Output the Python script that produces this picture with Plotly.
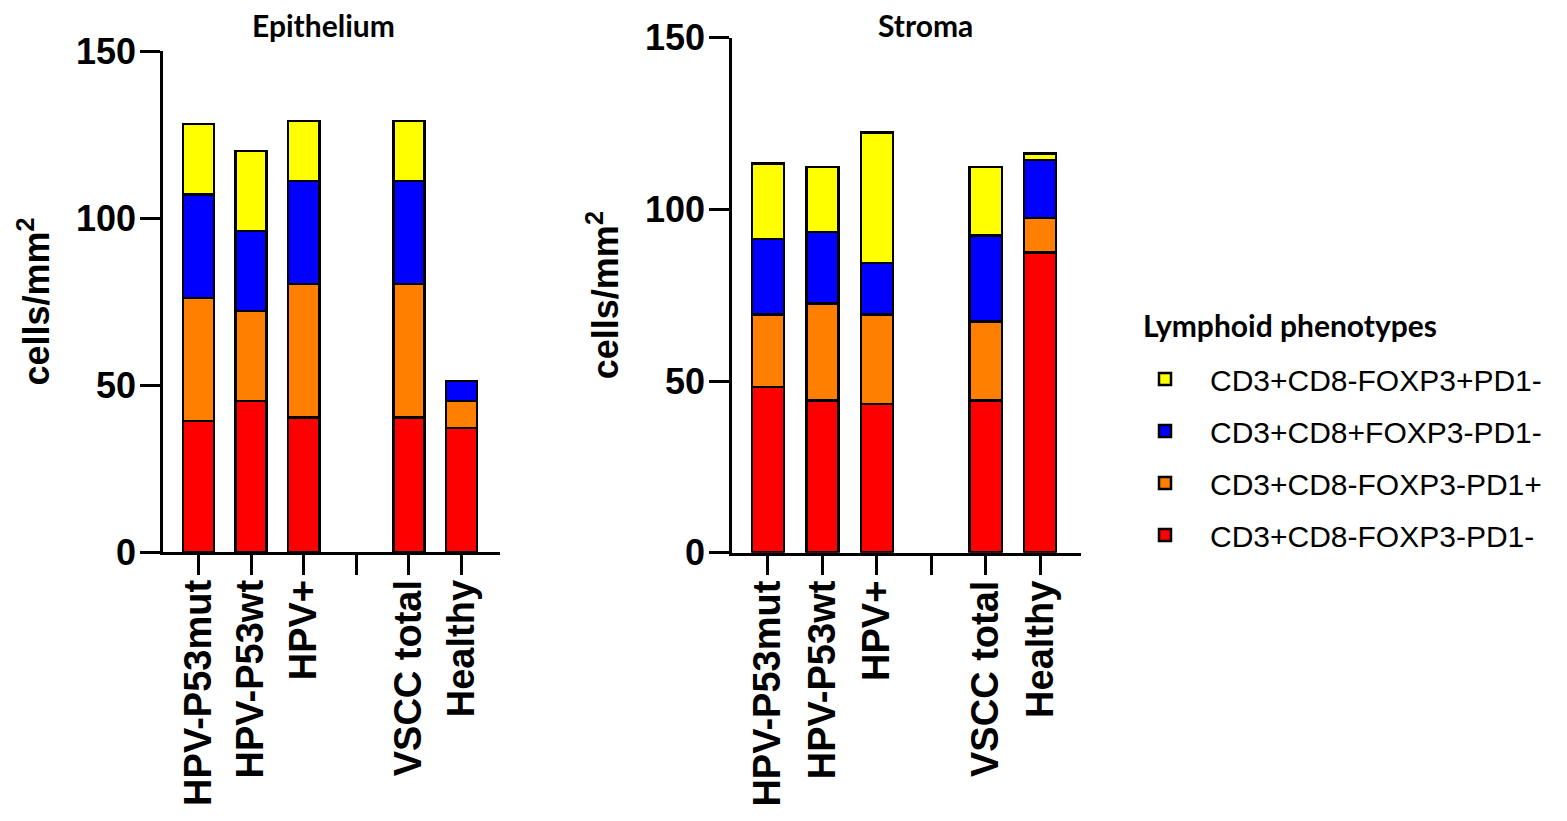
import plotly.graph_objects as go

categories = ["HPV-P53mut", "HPV-P53wt", "HPV+", " ", "VSCC total", "Healthy"]
phenotypes = ["CD3+CD8-FOXP3-PD1-", "CD3+CD8-FOXP3-PD1+", "CD3+CD8+FOXP3-PD1-", "CD3+CD8-FOXP3+PD1-"]
colors = ["#FF0000", "#FF8000", "#0000FF", "#FFFF00"]

# Epithelium (cells/mm2) per phenotype; the " " category is the empty gap
epi_red = [39.2, 45.2, 40.2, None, 40.2, 37.1]
epi_orange = [36.8, 27.0, 40.1, None, 40.1, 8.1]
epi_blue = [31.1, 23.9, 30.8, None, 30.8, 6.0]
epi_yellow = [21.0, 23.9, 17.9, None, 17.9, 0]

# Stroma (cells/mm2)
str_red = [48.3, 44.3, 43.3, None, 44.3, 87.4]
str_orange = [21.1, 28.2, 26.1, None, 23.1, 10.1]
str_blue = [22.0, 20.9, 14.9, None, 25.0, 16.9]
str_yellow = [22.0, 18.9, 38.1, None, 19.9, 1.8]

epi_series = [epi_red, epi_orange, epi_blue, epi_yellow]
str_series = [str_red, str_orange, str_blue, str_yellow]

ARIAL = "Liberation Sans, Arial, sans-serif"
CALIBRI = "Lato, Carlito, Calibri, sans-serif"

fig = go.Figure()
for i, (name, col) in enumerate(zip(phenotypes, colors)):
    fig.add_trace(go.Bar(
        x=categories, y=epi_series[i], name=name, legendgroup=name,
        legendrank=len(phenotypes) - i,
        marker=dict(color=col, line=dict(color="black", width=2.5)),
        width=0.59, xaxis="x", yaxis="y", showlegend=True))
for i, (name, col) in enumerate(zip(phenotypes, colors)):
    fig.add_trace(go.Bar(
        x=categories, y=str_series[i], name=name, legendgroup=name,
        legendrank=len(phenotypes) - i,
        marker=dict(color=col, line=dict(color="black", width=2.5)),
        width=0.59, xaxis="x2", yaxis="y2", showlegend=False))

W, H = 1567, 821

def px_x(v):
    return v / W

def px_y(v):
    return 1 - v / H

BOLD36 = dict(family=ARIAL, size=36, color="black", weight="bold")
BOLD38 = dict(family=ARIAL, size=38, color="black", weight="bold")

xcommon = dict(type="category", categoryorder="array", categoryarray=categories,
               showline=True, linecolor="black", linewidth=2.5,
               ticks="outside", ticklen=20, tickwidth=2.5, tickcolor="black",
               tickangle=-90, tickfont=BOLD38, automargin=False,
               ticklabelstandoff=-10,
               showgrid=False, zeroline=False)
ycommon = dict(range=[0, 150], tickvals=[0, 50, 100, 150],
               showline=True, linecolor="black", linewidth=2.5,
               ticks="outside", ticklen=20, tickwidth=2.5, tickcolor="black",
               tickfont=BOLD36, automargin=False,
               ticklabelstandoff=-3,
               showgrid=False, zeroline=False,
               title=dict(text="cells/mm<sup>2</sup>", font=BOLD36, standoff=16))

fig.update_layout(
    width=W, height=H,
    margin=dict(l=0, r=0, t=0, b=0, pad=0, autoexpand=False),
    plot_bgcolor="white", paper_bgcolor="white",
    barmode="stack", bargap=0.4,
    xaxis=dict(domain=[px_x(163), px_x(500)], range=[-0.675, 5.73], anchor="y", **xcommon),
    yaxis=dict(domain=[px_y(552), px_y(51)], anchor="x", **ycommon),
    xaxis2=dict(domain=[px_x(732), px_x(1081)], range=[-0.66, 5.75], anchor="y2", **xcommon),
    yaxis2=dict(domain=[px_y(552.7), px_y(37.6)], anchor="x2", **ycommon),
    legend=dict(
        font=dict(family=ARIAL, size=30, color="black"),
        traceorder="grouped", tracegroupgap=10,
        itemwidth=80,
        x=px_x(1120), xanchor="left", y=px_y(353), yanchor="top",
        bgcolor="rgba(0,0,0,0)"),
    annotations=[
        dict(text="<b>Epithelium</b>", x=px_x(323), y=px_y(25), xref="paper", yref="paper",
             showarrow=False, xanchor="center", yanchor="middle",
             font=dict(family=CALIBRI, size=30, color="black")),
        dict(text="<b>Stroma</b>", x=px_x(925), y=px_y(25), xref="paper", yref="paper",
             showarrow=False, xanchor="center", yanchor="middle",
             font=dict(family=CALIBRI, size=30, color="black")),
        dict(text="<b>Lymphoid phenotypes</b>", x=px_x(1141), y=px_y(325), xref="paper", yref="paper",
             showarrow=False, xanchor="left", yanchor="middle",
             font=dict(family=CALIBRI, size=30, color="black")),
    ],
)

fig.write_html("out.html")
